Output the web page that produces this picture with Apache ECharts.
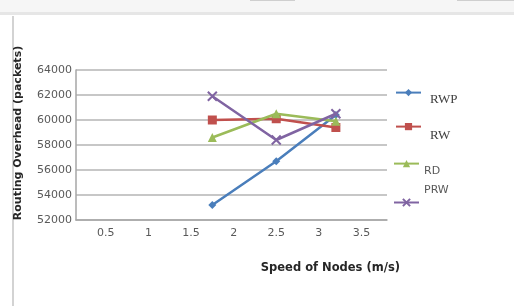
<!DOCTYPE html>
<html><head><meta charset="utf-8">
<script src="https://cdn.jsdelivr.net/npm/echarts@6/dist/echarts.min.js"></script>
<style>html,body{margin:0;padding:0;background:#fff}#c{width:514px;height:306px}</style>
</head><body><div id="c"></div>
<script>
const speeds = [1.75, 2.5, 3.2];
const rwp = [53200, 56700, 60400];
const rw  = [60000, 60100, 59400];
const rd  = [58600, 60500, 59900];
const prw = [61900, 58400, 60500];
const seriesNames = ['RWP', 'RW', 'RD', 'PRW'];
const xTickLabels = [0.5, 1, 1.5, 2, 2.5, 3, 3.5];
const yTickLabels = [52000, 54000, 56000, 58000, 60000, 62000, 64000];

const colors = ['#4a7ebb', '#c0504d', '#9bbb59', '#8064a2'];
const symbols = ['diamond', 'rect', 'triangle', 'path://M0,0L10,10M10,0L0,10'];
const sizes = [8, 9, 9, 9];
const values = [rwp, rw, rd, prw];

const chart = echarts.init(document.getElementById('c'), null, {renderer: 'canvas'});

function pairs(v) { return speeds.map((s, i) => [s, v[i]]); }

const series = seriesNames.map((n, k) => ({
  name: n, type: 'line', data: pairs(values[k]),
  symbol: symbols[k], symbolSize: sizes[k],
  lineStyle: {color: colors[k], width: 2.5},
  itemStyle: k === 3 ? {color: colors[k], borderColor: colors[k], borderWidth: 2} : {color: colors[k]},
  animation: false, z: 3 + k
}));

// marker centre y, text offset (down positive)
const legendCfg = [
  {y: 95, dy: 7, font: 'Liberation Serif', size: 13, color: '#404040', gap: 4},
  {y: 131, dy: 9, font: 'Liberation Serif', size: 13, color: '#404040', gap: 4},
  {y: 167, dy: 8, font: 'DejaVu Sans', size: 11, color: '#595959', gap: 0},
  {y: 196, dy: -12, font: 'DejaVu Sans', size: 11, color: '#595959', gap: 0}
];
const legends = seriesNames.map((n, k) => {
  const c = legendCfg[k];
  const pad = c.dy >= 0 ? [2 * c.dy, 0, 0, c.gap] : [0, 0, -2 * c.dy, c.gap];
  return {
    data: [n], left: k < 2 ? 390 : 388, top: c.y - 4 - Math.abs(c.dy) , orient: 'vertical',
    itemWidth: 25, itemHeight: 9, selectedMode: false,
    formatter: '{t|{name}}',
    textStyle: {rich: {t: {fontFamily: c.font, fontSize: c.size, color: c.color, padding: pad}}}
  };
});

chart.setOption({
  animation: false,
  backgroundColor: '#ffffff',
  color: colors,
  grid: {left: 76, top: 70, right: 127, bottom: 86},
  legend: legends,
  xAxis: {
    type: 'value', min: 0.15, max: 3.8,
    name: 'Speed of Nodes (m/s)', nameLocation: 'end', nameGap: 13,
    nameTextStyle: {fontFamily: 'DejaVu Sans', fontWeight: 'bold', fontSize: 11.5, color: '#262626', align: 'right', verticalAlign: 'top', padding: [42, 0, 0, 0]},
    axisLine: {show: true, lineStyle: {color: '#a6a6a6', width: 1.5}},
    axisTick: {show: false},
    splitLine: {show: false},
    axisLabel: {customValues: xTickLabels, fontFamily: 'DejaVu Sans', fontSize: 11, color: '#595959', margin: 8}
  },
  yAxis: {
    type: 'value', min: yTickLabels[0], max: yTickLabels[yTickLabels.length - 1], interval: 2000,
    name: 'Routing Overhead (packets)', nameLocation: 'middle', nameGap: 52,
    nameTextStyle: {fontFamily: 'DejaVu Sans', fontWeight: 'bold', fontSize: 11, color: '#262626', padding: [0, 0, 0, 24]},
    axisLine: {show: true, lineStyle: {color: '#a6a6a6', width: 1.5}},
    axisTick: {show: false},
    splitLine: {show: true, lineStyle: {color: '#b4b4b4', width: 1.5}},
    axisLabel: {formatter: v => String(v), fontFamily: 'DejaVu Sans', fontSize: 11, color: '#595959', margin: 4}
  },
  graphic: [
    {type: 'rect', shape: {x: 0, y: 0, width: 514, height: 12}, style: {fill: '#f6f6f6'}, silent: true},
    {type: 'rect', shape: {x: 0, y: 12, width: 514, height: 3}, style: {fill: '#e6e6e6'}, silent: true},
    {type: 'rect', shape: {x: 250, y: 0, width: 45, height: 1}, style: {fill: '#cfcfcf'}, silent: true},
    {type: 'rect', shape: {x: 457, y: 0, width: 57, height: 1}, style: {fill: '#cfcfcf'}, silent: true},
    {type: 'line', shape: {x1: 13, y1: 16, x2: 13, y2: 306}, style: {stroke: '#c4c4c4', lineWidth: 1.5}, silent: true}
  ],
  series: series
});
</script></body></html>
